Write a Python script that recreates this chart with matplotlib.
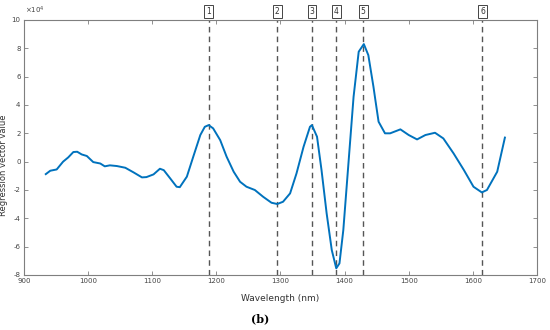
import numpy as np
import matplotlib
matplotlib.use('Agg')
import matplotlib.pyplot as plt
from matplotlib.ticker import FuncFormatter
import matplotlib.transforms as mtransforms

# regression vector, values in units of 1e4
wavelength = [934, 941, 951, 961, 969, 977, 983, 990, 998, 1008, 1019, 1026, 1034,
              1045, 1058, 1071, 1084, 1091, 1102, 1112, 1118, 1128, 1138, 1143, 1154,
              1164, 1175, 1182, 1188, 1195, 1206, 1216, 1227, 1237, 1247, 1260, 1273,
              1286, 1295, 1304, 1315, 1325, 1336, 1346, 1349, 1357, 1364, 1372, 1380,
              1387, 1392, 1398, 1406, 1414, 1422, 1430, 1437, 1445, 1448, 1453, 1463,
              1471, 1487, 1500, 1513, 1526, 1541, 1554, 1570, 1586, 1601, 1614, 1622,
              1638, 1650]
coef = [-0.88, -0.64, -0.55, 0.0, 0.3, 0.68, 0.7, 0.51, 0.4, -0.03, -0.13, -0.33, -0.26,
        -0.31, -0.43, -0.76, -1.11, -1.09, -0.9, -0.5, -0.6, -1.18, -1.77, -1.8, -1.06,
        0.35, 1.88, 2.46, 2.58, 2.35, 1.52, 0.35, -0.71, -1.42, -1.77, -2.0, -2.48,
        -2.9, -2.99, -2.83, -2.24, -0.83, 1.05, 2.46, 2.58, 1.76, -0.59, -3.65, -6.24,
        -7.53, -7.18, -4.83, -0.12, 4.58, 7.76, 8.3, 7.52, 5.29, 4.35, 2.82, 2.0,
        2.0, 2.28, 1.88, 1.57, 1.88, 2.04, 1.64, 0.58, -0.59, -1.77, -2.17, -2.0,
        -0.71, 1.70]

marks = [1188, 1295, 1349, 1387, 1429, 1615]
mark_labels = ['1', '2', '3', '4', '5', '6']

gray = '#7f7f7f'
fig = plt.figure(figsize=(5.5, 3.3), dpi=100)
ax = fig.add_axes([0.0436, 0.1667, 0.9327, 0.7727])

for m in marks:
    ax.axvline(m, color='#555555', ls=(0, (4, 3)), lw=1.0, zorder=1)

ax.plot(wavelength, np.array(coef) * 1e4, color='#0072BD', lw=1.4, zorder=2)

ax.set_xlim(900, 1700)
ax.set_ylim(-8e4, 10e4)
ax.set_xticks(range(900, 1701, 100))
ax.set_yticks(np.arange(-8, 11, 2) * 1e4)
ax.yaxis.set_major_formatter(FuncFormatter(lambda v, p: '%d' % round(v / 1e4)))

ax.tick_params(direction='in', top=True, right=True, length=3, width=0.6,
               colors=gray, labelcolor='#444444', labelsize=5, pad=2.5)
for s in ax.spines.values():
    s.set_color(gray)
    s.set_linewidth(0.8)

ax.set_xlabel('Wavelength (nm)', fontsize=6.5, color='#333333')
ax.xaxis.set_label_coords(0.5, -0.075)
ax.set_ylabel('Regression vector value', fontsize=6, color='#333333')
ax.yaxis.set_label_coords(-0.032, 0.43)

fig.text(25 / 550, 1 - 16 / 330, r'$\times10^4$', fontsize=5, color='#444444',
         ha='left', va='bottom')

trans = mtransforms.blended_transform_factory(ax.transData, ax.transAxes)
for m, lab in zip(marks, mark_labels):
    ax.text(m, 1.033, lab, transform=trans, ha='center', va='center', fontsize=5.5,
            color='#333333',
            bbox=dict(boxstyle='square,pad=0.25', fc='white', ec='#444444', lw=0.7))

fig.text(260 / 550, 1 - 319 / 330, '(b)', ha='center', va='center', fontsize=8,
         fontweight='bold', family='DejaVu Serif')

fig.savefig('out.png', dpi=100)
